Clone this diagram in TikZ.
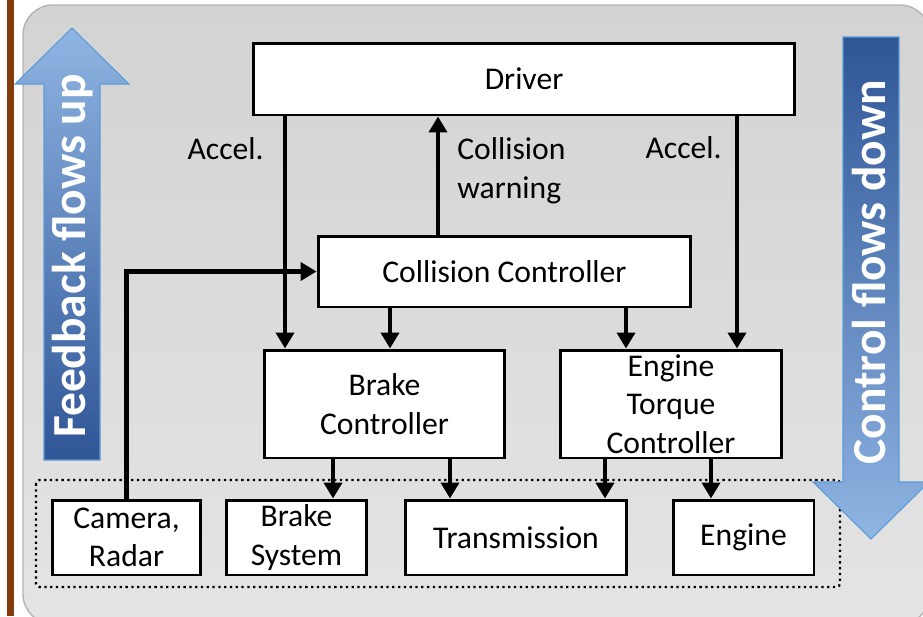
\documentclass[tikz,border=0pt]{standalone}
\usepackage{fontspec}
\setmainfont{Carlito}
\usetikzlibrary{arrows.meta, positioning}
\definecolor{bgtop}{HTML}{D3D3D3}
\definecolor{bgbottom}{HTML}{E4E4E4}
\definecolor{bgedge}{HTML}{B4B4B4}
\definecolor{brownbar}{HTML}{843C0C}
\definecolor{flowlight}{HTML}{8FB5E3}
\definecolor{flowdark}{HTML}{2F5597}
\definecolor{flowedge}{HTML}{5B9BD5}

\tikzset{
  block/.style={draw=black, fill=white, line width=1.7pt, align=center, inner sep=2pt,
    font=\fontsize{18}{22}\selectfont},
  flow/.style={-{Triangle[length=0.32cm, width=0.36cm]}, line width=2.8pt},
  lbl/.style={font=\fontsize{18}{22}\selectfont, inner sep=0pt, align=left},
  bigtext/.style={font=\fontsize{27}{30}\selectfont\bfseries, text=white, rotate=90},
  bigarrow/.style={draw=flowedge, line width=0.6pt}
}

\begin{document}
\begin{tikzpicture}[x=0.02cm, y=-0.02cm]
  \clip (0,0) rectangle (923,616);
  % background panel
  \fill[white] (0,0) rectangle (923,616);
  \shadedraw[top color=bgtop, bottom color=bgbottom, draw=bgedge, line width=0.8pt,
    rounded corners=0.6cm] (23,5) rectangle (930,624);
  \fill[brownbar] (7,0) rectangle (14,616);

  % feedback arrow
  \shadedraw[bigarrow, top color=flowlight, bottom color=flowdark]
    (44,460) -- (44,84) -- (15,84) -- (72,28) -- (129,84) -- (100,84) -- (100,460) -- cycle;
  \node[bigtext] (fbtext) at (73,256) {Feedback flows up};

  % blocks
  \node[block, minimum width=10.84cm, minimum height=1.44cm] (driver) at (524,79) {Driver};
  \node[block, minimum width=7.46cm, minimum height=1.42cm] (coll) at (504.5,271.5) {Collision Controller};
  \node[block, minimum width=4.82cm, minimum height=2.16cm] (brakectl) at (384.5,404) {Brake\\Controller};
  \node[block, minimum width=4.44cm, minimum height=2.16cm] (enginectl) at (671,404) {Engine\\Torque\\Controller};

  \draw[dotted, line width=1.3pt, rounded corners=2pt] (36,480) rectangle (840,587);
  \node[block, minimum width=2.98cm, minimum height=1.5cm] (sensor) at (126.5,537.5) {Camera,\\Radar};
  \node[block, minimum width=2.82cm, minimum height=1.5cm] (brakesys) at (296.5,537.5) {Brake\\System};
  \node[block, minimum width=4.44cm, minimum height=1.5cm] (trans) at (516,537.5) {Transmission};
  \node[block, minimum width=2.82cm, minimum height=1.5cm] (engine) at (743.5,537.5) {Engine};

  % columns of the connectors
  \coordinate (accelL) at (285,0);
  \coordinate (warnX) at (438,0);
  \coordinate (accelR) at (737,0);
  \coordinate (collB) at (390,0);
  \coordinate (collE) at (626,0);
  \coordinate (brkS) at (333,0);
  \coordinate (brkT) at (450,0);
  \coordinate (engT) at (605,0);
  \coordinate (engE) at (711,0);

  \draw[flow] (driver.south -| accelL) -- (brakectl.north -| accelL);
  \draw[flow] (coll.north -| warnX) -- (driver.south -| warnX);
  \draw[flow] (driver.south -| accelR) -- (enginectl.north -| accelR);
  \draw[flow] (coll.south -| collB) -- (brakectl.north -| collB);
  \draw[flow] (coll.south -| collE) -- (enginectl.north -| collE);
  \draw[flow] (brakectl.south -| brkS) -- (brakesys.north -| brkS);
  \draw[flow] (brakectl.south -| brkT) -- (trans.north -| brkT);
  \draw[flow] (enginectl.south -| engT) -- (trans.north -| engT);
  \draw[flow] (enginectl.south -| engE) -- (engine.north -| engE);
  \draw[flow] (sensor.north) |- (coll.west);

  \node[lbl, anchor=east] (accelLtext) at (264,149) {Accel.};
  \node[lbl, anchor=east] (accelRtext) at (722,148) {Accel.};
  \node[lbl, anchor=west] (warntext) at (457,171) {Collision\\warning};

  % control arrow
  \shadedraw[bigarrow, top color=flowdark, bottom color=flowlight]
    (843,37) -- (899,37) -- (899,482) -- (929,482) -- (871,539) -- (813,482) -- (843,482) -- cycle;
  \node[bigtext] (cftext) at (869,272) {Control flows down};
\end{tikzpicture}
\end{document}
